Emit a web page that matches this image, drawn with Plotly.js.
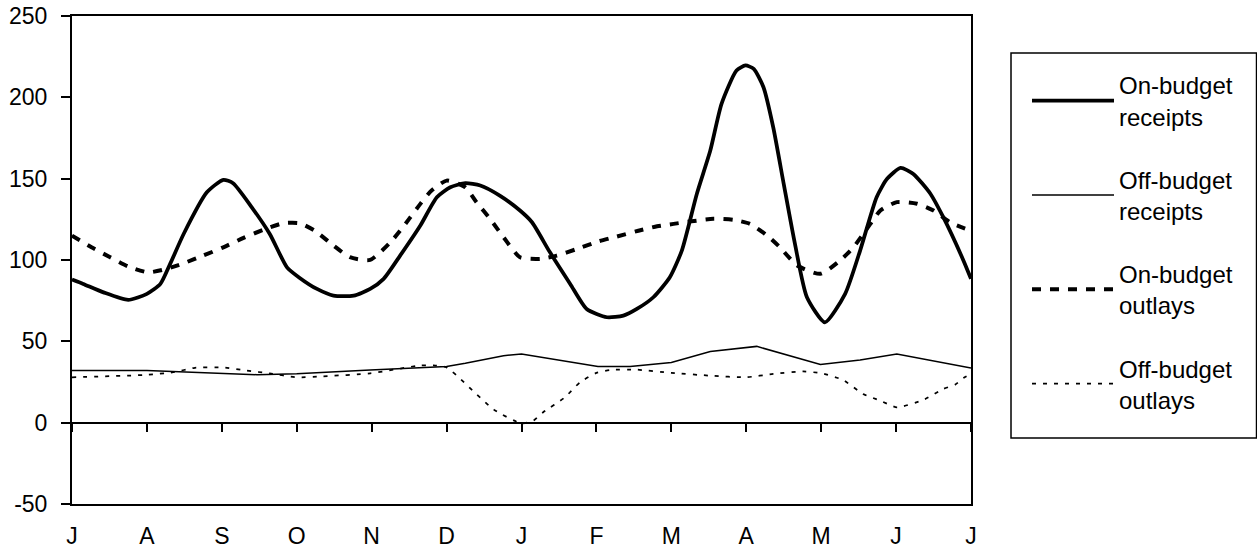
<!DOCTYPE html>
<html>
<head>
<meta charset="utf-8">
<script src="https://cdn.plot.ly/plotly-3.0.1.min.js"></script>
<style>
  html, body { margin: 0; padding: 0; background: #fff; }
  #chart { width: 1257px; height: 558px; }
</style>
</head>
<body>
<div id="chart"></div>
<script>
// Month labels (Jul .. Jul), positions 0..12
const monthLabels = ["J","A","S","O","N","D","J","F","M","A","M","J","J"];
const monthPos = [0,1,2,3,4,5,6,7,8,9,10,11,12];

// Y tick values and labels (hyphen minus as in the original)
const yTickVals = [-50,0,50,100,150,200,250];
const yTickText = ["-50","0","50","100","150","200","250"];

// Series names
const seriesNames = ["On-budget<br>receipts","Off-budget<br>receipts","On-budget<br>outlays","Off-budget<br>outlays"];

// On-budget receipts (month position, $ billions)
const onRecX = [0,0.15,0.42,0.75,1.0,1.18,1.31,1.49,1.8,2.02,2.15,2.4,2.64,2.87,3.04,3.27,3.49,3.76,3.98,4.16,4.38,4.65,4.87,5.05,5.25,5.45,5.71,5.98,6.14,6.38,6.65,6.87,7.14,7.36,7.54,7.76,7.98,8.14,8.34,8.52,8.67,8.87,8.99,9.1,9.23,9.36,9.5,9.65,9.81,10.05,10.32,10.52,10.74,10.88,11.06,11.23,11.46,11.63,11.9,12];
const onRecY = [88,85.3,80.1,75.5,79.2,85.3,97.6,116,141.6,149.3,147.2,132.4,116,95.5,89,82.2,78.1,78.1,82.2,88.4,102.7,121.2,138.6,144.7,147.2,145.8,139.6,130.4,123.2,104.7,85.3,69.9,64.8,65.8,69.9,77.1,89.4,105.8,140.6,167.3,196,216.5,219.6,217.5,206.2,181.6,146.8,109.9,77.1,61.7,79.2,105.8,138.6,149.9,156.6,152.9,140.6,126.3,99.6,88.4];

// Off-budget receipts
const offRecX = [0,1.0,2.47,3.0,3.98,5.0,5.25,5.76,6.0,7.02,7.45,8.0,8.52,9.14,9.99,10.52,11.01,12];
const offRecY = [32,32,29.5,30,32.4,34.6,36.5,41.2,42.2,34.6,34.6,37,43.8,46.9,35.7,38.5,42.2,33.6];

// On-budget outlays
const onOutX = [0,0.26,0.51,0.75,1.02,1.26,1.49,1.75,2.02,2.29,2.55,2.82,3.04,3.24,3.49,3.71,3.98,4.25,4.38,4.51,4.65,4.8,5.0,5.25,5.4,5.58,5.76,5.98,6.25,6.47,6.74,7.03,7.27,7.56,7.81,8.03,8.27,8.56,8.83,9.05,9.28,9.45,9.68,9.99,10.25,10.43,10.61,10.79,11.01,11.28,11.5,11.72,12];
const onOutY = [115,107.8,101.7,96,92.4,94.5,98,102.7,107.8,113.6,118.5,122.6,122.6,118,108.9,101.7,100.1,110.9,118,125.9,134.5,142.7,148.8,144.7,135.5,125.3,114,101.7,100.7,102.7,106.8,111.5,114.4,118,120.7,122.2,123.8,125.3,124.7,122.2,115,107.8,96.6,91.5,99.6,107.8,119.1,130.4,135.6,134.6,130.4,123.2,118];

// Off-budget outlays
const offOutX = [0,1.0,1.35,1.64,2.02,2.33,2.64,3.0,3.35,3.98,4.65,4.82,5.0,5.63,6.0,6.16,6.29,6.58,6.78,7.0,7.18,7.54,8.0,8.52,9.0,9.36,9.76,10.01,10.29,10.56,10.79,11.01,11.36,11.63,11.79,11.9,12];
const offOutY = [27.9,29.4,31,33.7,34,32,30.3,27.9,28.5,30.3,35.2,35.2,34,8,-0.5,1.3,6.4,15.6,24.8,30.6,32.4,32.6,30.6,28.9,27.9,30,31.5,30.3,26.3,17.6,13.5,9.4,13.9,20.7,23.4,27.5,30];

const FONT = "Liberation Sans, Arial, sans-serif";

const traces = [
  {x: onRecX, y: onRecY, name: seriesNames[0], mode: "lines", legendgroup: "a",
   line: {color: "#000", width: 3.75, shape: "spline", smoothing: 0.6}},
  {x: offRecX, y: offRecY, name: seriesNames[1], mode: "lines", legendgroup: "b",
   line: {color: "#000", width: 1.5}},
  {x: onOutX, y: onOutY, name: seriesNames[2], mode: "lines", legendgroup: "c",
   line: {color: "#000", width: 4, dash: "9px,9px", shape: "spline", smoothing: 0.6}},
  {x: offOutX, y: offOutY, name: seriesNames[3], mode: "lines", legendgroup: "d",
   line: {color: "#000", width: 1.75, dash: "4px,7px", shape: "spline", smoothing: 0.5}},
  // carrier for the zero-line axis with tick marks
  {x: [0, 12], y: [null, null], xaxis: "x2", mode: "lines", showlegend: false, hoverinfo: "skip"}
];

const layout = {
  width: 1257, height: 558,
  margin: {l: 72, r: 286, t: 16, b: 54, pad: 0},
  paper_bgcolor: "#fff", plot_bgcolor: "#fff",
  font: {family: FONT, size: 23, color: "#000"},
  showlegend: true,
  legend: {
    x: 1.0623, xanchor: "left", y: 0.904, yanchor: "top",
    bgcolor: "rgba(0,0,0,0)", borderwidth: 0,
    font: {family: FONT, size: 24, color: "#000"},
    tracegroupgap: 29, itemwidth: 82,
    traceorder: "grouped"
  },
  shapes: [
    {type: "rect", xref: "paper", yref: "paper",
     x0: 1.0445, x1: 1.3176, y0: 0.1352, y1: 0.924,
     line: {color: "#000", width: 1.5}, fillcolor: "rgba(0,0,0,0)", layer: "below"}
  ],
  xaxis: {
    range: [0, 12], tickvals: monthPos, ticktext: monthLabels,
    showgrid: false, zeroline: false, ticks: "",
    showline: true, linecolor: "#000", linewidth: 2, mirror: true,
    tickfont: {family: FONT, size: 23, color: "#000"},
    ticklabelstandoff: 10, fixedrange: true
  },
  xaxis2: {
    range: [0, 12], overlaying: "x", anchor: "free", position: 1/6,
    tickvals: monthPos, showticklabels: false, ticks: "outside", ticklen: 8, tickwidth: 2,
    tickcolor: "#000", showgrid: false, zeroline: false,
    showline: true, linecolor: "#000", linewidth: 2
  },
  yaxis: {
    range: [-50, 250], tickvals: yTickVals, ticktext: yTickText,
    showgrid: false, zeroline: false,
    ticks: "outside", ticklen: 9, tickwidth: 2, tickcolor: "#000",
    showline: true, linecolor: "#000", linewidth: 2, mirror: true,
    tickfont: {family: FONT, size: 23, color: "#000"},
    ticklabelstandoff: 9, fixedrange: true
  }
};

Plotly.newPlot("chart", traces, layout, {displayModeBar: false, staticPlot: true});
</script>
</body>
</html>
